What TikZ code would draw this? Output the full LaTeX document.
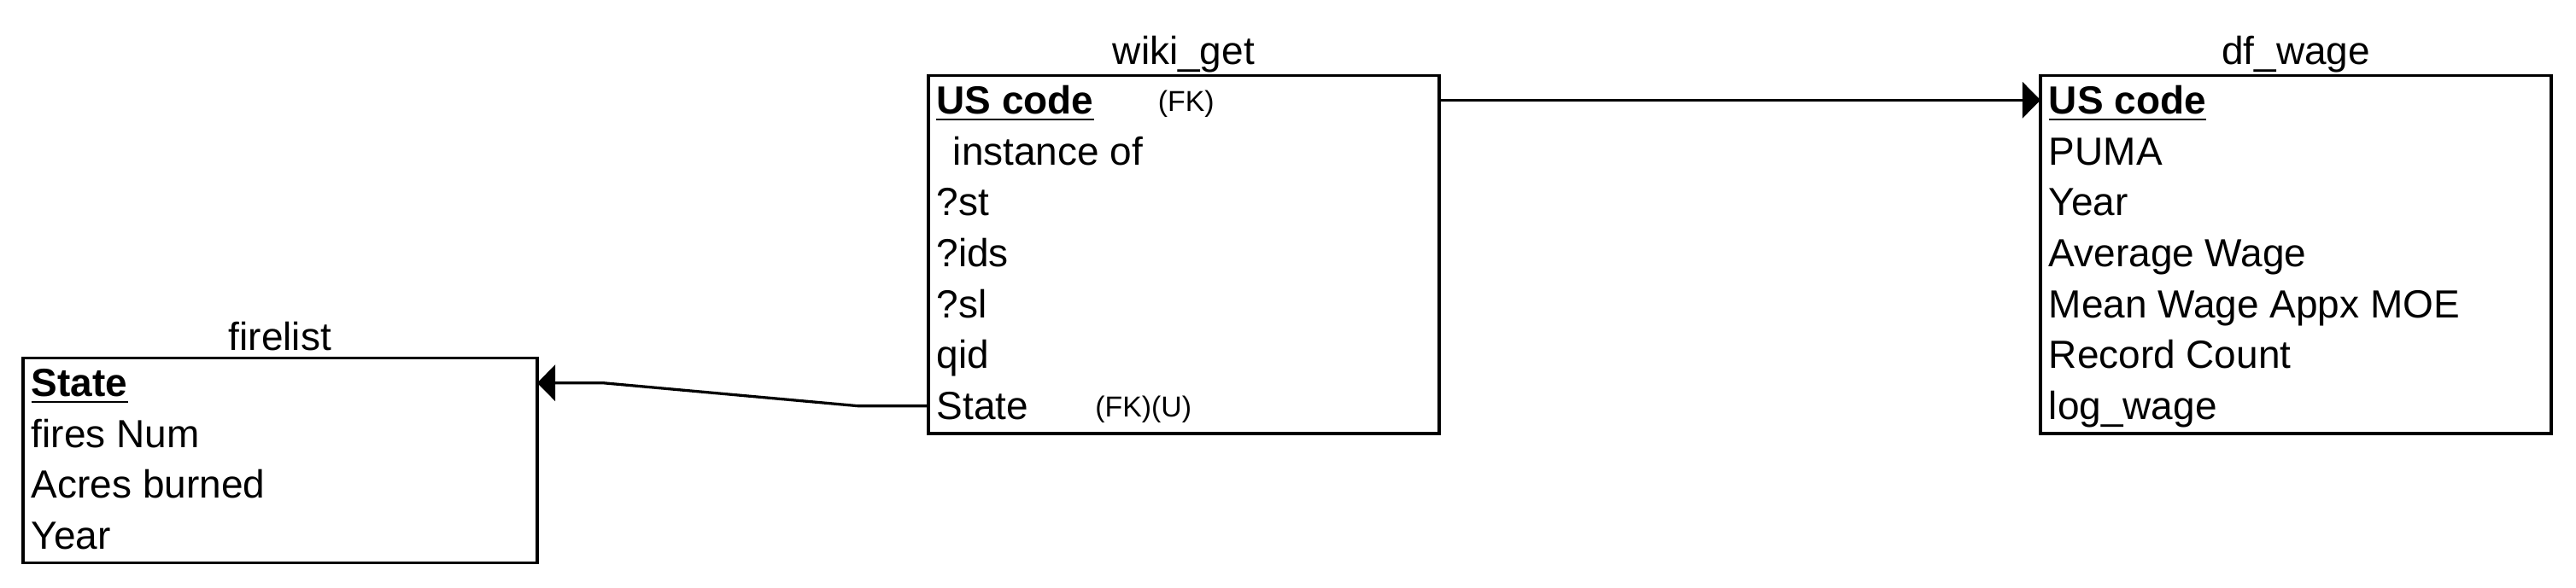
\documentclass[tikz,border=0pt]{standalone}
\usepackage{fontspec}
\setmainfont{Liberation Sans}
\usepackage{tikz}
\usetikzlibrary{arrows.meta,positioning,calc}

\begin{document}
\begin{tikzpicture}[x=0.05cm,y=0.05cm,font=\fontsize{34}{40}\selectfont,
  table/.style={draw,line width=0.9mm,inner sep=0pt,outer sep=0pt,minimum width=15.55cm,minimum height=10.9cm},
  field/.style={anchor=base west,inner sep=0pt},
  note/.style={anchor=base,inner sep=0pt,font=\fontsize{25}{30}\selectfont},
  title/.style={inner sep=0pt},
  link/.style={line width=0.85mm,-{Triangle[length=0.55cm,width=1.1cm]}}
]
  \useasboundingbox (0,0) rectangle (1568,358);
  % tables
  \node[table,minimum width=15.65cm,minimum height=6.25cm] (firelist) at (170.5,77.5) {};
  \node[table] (wiki) at (720.5,203) {};
  \node[table] (dfwage) at (1397.5,203) {};
  \node[title] (firelist-t) at ($(firelist.north)+(0,13)$) {firelist};
  \node[title] (wiki-t) at ($(wiki.north)+(0,13)$) {wiki\_get};
  \node[title] (dfwage-t) at ($(dfwage.north)+(0,13)$) {df\_wage};
  % fields
  \foreach \txt [count=\i] in {\textbf{State},fires Num,Acres burned,Year}
    \node[field] (fire-\i) at ($(firelist.north west)+(5,{-23.5-31*(\i-1)})$) {\txt};
  \foreach \txt [count=\i] in {\textbf{US code},\hspace{0.5cm}instance of,?st,?ids,?sl,qid,State}
    \node[field] (wiki-\i) at ($(wiki.north west)+(5,{-23.5-31*(\i-1)})$) {\txt};
  \foreach \txt [count=\i] in {\textbf{US code},PUMA,Year,Average Wage,Mean Wage Appx MOE,Record Count,log\_wage}
    \node[field] (dfwage-\i) at ($(dfwage.north west)+(5,{-23.5-31*(\i-1)})$) {\txt};
  % key underlines
  \foreach \k in {fire-1,wiki-1,dfwage-1}
    \draw[line width=0.6mm] ([yshift=-1.6mm]\k.base west) -- ([yshift=-1.6mm]\k.base east);
  \node[note] (wiki-fk1) at ($(wiki.north west)+(157,-22)$) {(FK)};
  \node[note] (wiki-fk7) at ($(wiki.north west)+(131,-208)$) {(FK)(U)};
  % links
  \draw[link] (wiki.east |- wiki-1) -- (dfwage.west |- dfwage-1);
  \draw[link] (wiki.west |- wiki-7) -- ++(-43,0) -- ($(firelist.east |- fire-1)+(40,0)$) -- (firelist.east |- fire-1);
\end{tikzpicture}
\end{document}
